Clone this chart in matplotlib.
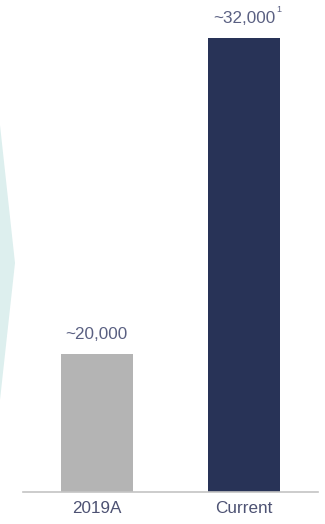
import matplotlib.pyplot as plt
from matplotlib.patches import Polygon

plt.rcParams["font.family"] = ["Liberation Sans", "DejaVu Sans"]

categories = ["2019A", "Current"]
values = [20000, 32000]
labels = ["~20,000", "~32,000"]
footnotes = ["", "1"]
colors = ["#b4b4b4", "#283357"]

fig = plt.figure(figsize=(3.25, 5.24), dpi=100)

# faint chevron on the left edge (figure pixel coordinates)
chevron = Polygon([(0, 524 - 125), (15, 524 - 263), (0, 524 - 400)],
                  closed=True, facecolor="#ddefee", edgecolor="none",
                  transform=None)
fig.patches.append(chevron)

ax = fig.add_axes([23 / 325, 32 / 524, 295 / 325, 492 / 524])
ax.patch.set_alpha(0)

x = list(range(len(categories)))
bars = ax.bar(x, values, width=0.486, color=colors)

for b, lab, fn in zip(bars, labels, footnotes):
    cx = b.get_x() + b.get_width() / 2
    ax.annotate(lab, (cx, b.get_height()),
                xytext=(0, 8.5), textcoords="offset points",
                ha="center", va="bottom", fontsize=12.3, color="#5a6082")
    if fn:
        ax.annotate(fn, (cx, b.get_height()),
                    xytext=(23, 17), textcoords="offset points",
                    ha="left", va="bottom", fontsize=6.5, color="#5a6082")

ax.set_xlim(-0.5, 1.5)
ax.set_ylim(14760, 33440)
ax.set_xticks(x)
ax.set_xticklabels(categories, fontsize=12.3, color="#4d5273")
ax.tick_params(axis="x", length=0, pad=6.5)
ax.set_yticks([])
for s in ["top", "left", "right"]:
    ax.spines[s].set_visible(False)
ax.spines["bottom"].set_color("#c4c4c4")
ax.spines["bottom"].set_linewidth(1.2)

fig.savefig("out.png", dpi=100)
